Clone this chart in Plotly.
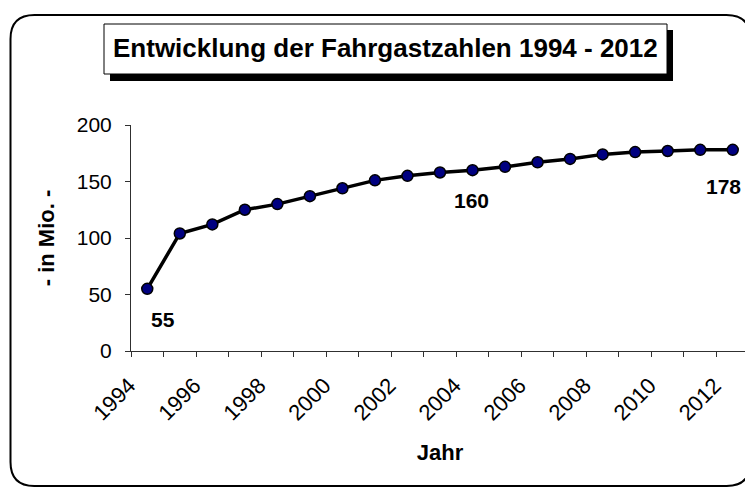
import plotly.graph_objects as go

years = list(range(1994, 2013))
passengers = [55, 104, 112, 125, 130, 137, 144, 151, 155, 158, 160, 163, 167, 170, 174, 176, 177, 178, 178]
tick_years = [1994, 1996, 1998, 2000, 2002, 2004, 2006, 2008, 2010, 2012]
tick_labels = [str(y) for y in tick_years]
labelled = {1994: (16, -31), 2004: (-1, -30), 2012: (-9, -37)}

O = 8  # page body margin
W, H = 753 - O, 487 - O
L, R, T, B = 131 - O, 4, 125 - O, 136
PW, PH = W - L - R, H - T - B

def px(x):
    return (x - O - L) / PW

def py(y):
    return (H - B - (y - O)) / PH

FONT = "Liberation Sans, Arial"

fig = go.Figure()
fig.add_trace(go.Scatter(
    x=years, y=passengers, mode="lines+markers",
    line=dict(color="black", width=3.5),
    marker=dict(size=11, color="#000080", line=dict(color="black", width=1.5)),
    hoverinfo="x+y", showlegend=False,
))

annotations = []
for yr, (dx, dy) in labelled.items():
    v = passengers[years.index(yr)]
    annotations.append(dict(x=yr, y=v, xref="x", yref="y", text=f"<b>{v}</b>", showarrow=False,
                            xshift=dx, yshift=dy, xanchor="center", yanchor="middle",
                            font=dict(family=FONT, size=21, color="black")))

annotations.append(dict(x=px(385.5), y=py(48), xref="paper", yref="paper",
                        xanchor="center", yanchor="middle",
                        text="<b>Entwicklung der Fahrgastzahlen 1994 - 2012</b>", showarrow=False,
                        font=dict(family=FONT, size=26, color="black")))

# rounded outer frame
x0, x1, y0, y1, r = 10.5, 750.5, 15, 486, 24
def P(x, y):
    return f"{px(x):.5f},{py(y):.5f}"
frame = (f"M {P(x0 + r, y0)} L {P(x1 - r, y0)} Q {P(x1, y0)} {P(x1, y0 + r)} "
         f"L {P(x1, y1 - r)} Q {P(x1, y1)} {P(x1 - r, y1)} "
         f"L {P(x0 + r, y1)} Q {P(x0, y1)} {P(x0, y1 - r)} "
         f"L {P(x0, y0 + r)} Q {P(x0, y0)} {P(x0 + r, y0)} Z")
shapes = [
    dict(type="path", path=frame, xref="paper", yref="paper", line=dict(color="black", width=2), layer="below"),
    dict(type="rect", xref="paper", yref="paper", x0=px(110), x1=px(673), y0=py(81), y1=py(30),
         fillcolor="black", line=dict(width=0), layer="below"),
    dict(type="rect", xref="paper", yref="paper", x0=px(104), x1=px(667), y0=py(74), y1=py(24),
         fillcolor="white", line=dict(color="black", width=1), layer="below"),
]

fig.update_layout(
    width=W, height=H,
    margin=dict(l=L, r=R, t=T, b=B, autoexpand=False),
    paper_bgcolor="white", plot_bgcolor="white",
    font=dict(family=FONT, size=20, color="black"),
    annotations=annotations, shapes=shapes,
    xaxis=dict(
        range=[1993.5, 2012.5], tickmode="array", tickvals=tick_years, ticktext=tick_labels,
        tickangle=-45, ticks="", showgrid=False, zeroline=False,
        showline=True, linecolor="#303030", linewidth=1,
        tickfont=dict(size=22), ticklabelstandoff=12, ticklabelshift=-18,
        minor=dict(tickmode="linear", tick0=1993.5, dtick=1, ticks="outside", ticklen=5,
                   tickcolor="#303030", showgrid=False),
        title=dict(text="<b>Jahr</b>", font=dict(size=22), standoff=20),
    ),
    yaxis=dict(
        range=[0, 200], tickmode="array", tickvals=[0, 50, 100, 150, 200],
        ticks="outside", ticklen=5, tickcolor="#303030", showgrid=False, zeroline=False,
        showline=True, linecolor="#303030", linewidth=1, tickfont=dict(size=21),
        ticklabelstandoff=9,
        title=dict(text="<b>- in Mio. -</b>", font=dict(size=22), standoff=16),
    ),
)

fig.write_html("out.html")
